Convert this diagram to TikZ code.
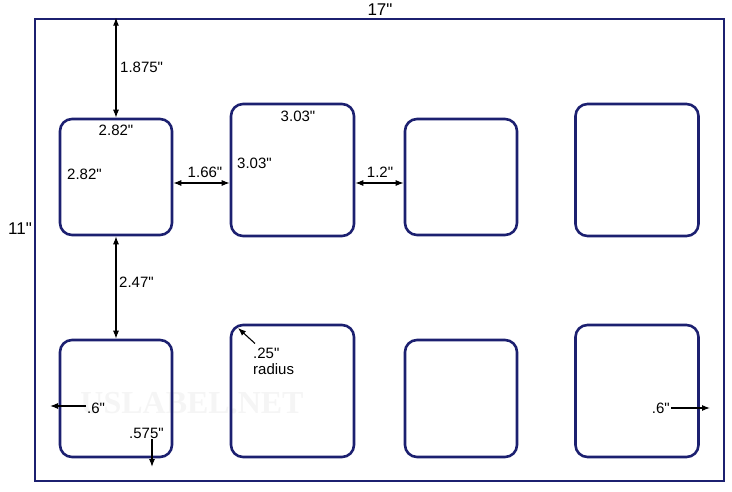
\documentclass[tikz,border=0pt]{standalone}
\usepackage{fontspec}
\setmainfont{Liberation Sans}[Ligatures=TeXOff]
\newfontfamily\wmfont{Liberation Serif}
\usetikzlibrary{arrows.meta,positioning}
\definecolor{sheetblue}{RGB}{28,32,112}
\tikzstyle{sheetframe} = [draw=sheetblue, line width=2.6pt, inner sep=0pt]
\tikzstyle{labelbox} = [draw=sheetblue, line width=2.6pt, rounded corners=12pt, inner sep=0pt]
\tikzstyle{dimline} = [line width=1.1pt, >={Latex[length=8pt,width=6pt]}]
\tikzstyle{dimtext} = [font=\fontsize{15}{16}\selectfont, inner sep=1pt]

\begin{document}
\begin{tikzpicture}[x=1pt,y=-1pt]
	\useasboundingbox (0,0) rectangle (732,492);
	% sheet and labels
	\node [sheetframe, minimum width=689pt, minimum height=462pt] (sheet) at (379.5,250) {};
	\node [font=\wmfont\bfseries\fontsize{32}{34}\selectfont, text=black!4] (mark) at (192,403) {USLABEL.NET};
	\node [labelbox, minimum width=112pt, minimum height=116pt] (a1) at (116,177) {};
	\node [labelbox, minimum width=123pt, minimum height=132pt] (a2) at (292.5,170) {};
	\node [labelbox, minimum width=112pt, minimum height=116pt] (a3) at (461,177) {};
	\node [labelbox, minimum width=123pt, minimum height=132pt] (a4) at (637,170) {};
	\node [labelbox, minimum width=112pt, minimum height=117pt] (b1) at (116,398.5) {};
	\node [labelbox, minimum width=123pt, minimum height=132pt] (b2) at (292.5,391) {};
	\node [labelbox, minimum width=112pt, minimum height=117pt] (b3) at (461,398.5) {};
	\node [labelbox, minimum width=123pt, minimum height=132pt] (b4) at (637,391) {};
	% sheet size
	\node [font=\fontsize{17}{18}\selectfont, inner sep=0pt] (w17) at (380,10) {17"};
	\node [font=\fontsize{17}{18}\selectfont, inner sep=0pt] (h11) at (20,229) {11"};
	% dimensions
	\node [dimtext, anchor=west] (t1875) at (119,67) {1.875"};
	\node [dimtext] (t282a) at (116,130) {2.82"};
	\node [dimtext, anchor=west] (t282b) at (66,174) {2.82"};
	\node [dimtext] (t166) at (205,172) {1.66"};
	\node [dimtext] (t303a) at (298,116) {3.03"};
	\node [dimtext, anchor=west] (t303b) at (236,163) {3.03"};
	\node [dimtext] (t12) at (380,172) {1.2"};
	\node [dimtext, anchor=west] (t247) at (118,282) {2.47"};
	\node [dimtext, anchor=west, align=left] (t25) at (252,361) {.25"\\radius};
	\node [dimtext, anchor=west] (t6l) at (86,408) {.6"};
	\node [dimtext, anchor=west] (t575) at (128,433) {.575"};
	\node [dimtext, anchor=east] (t6r) at (671,408) {.6"};
	\coordinate (lm) at (50,406);
	\coordinate (bm) at (152,467);
	\coordinate (rm) at (710,408);
	\coordinate (rc) at (238,328);
	\draw [dimline,<->] (sheet.north -| a1.north) -- (a1.north);
	\draw [dimline,<->] (a1.south) -- (b1.north);
	\draw [dimline,<->] (a1.east |- 0,183) -- (a2.west |- 0,183);
	\draw [dimline,<->] (a2.east |- 0,183) -- (a3.west |- 0,183);
	\draw [dimline,->] (t25.north west) ++(3,-3) -- (rc);
	\draw [dimline,->] (t6l.west |- lm) -- (lm);
	\draw [dimline,->] (t575.south -| bm) -- (bm);
	\draw [dimline,->] (t6r.east) -- (rm);
\end{tikzpicture}
\end{document}
